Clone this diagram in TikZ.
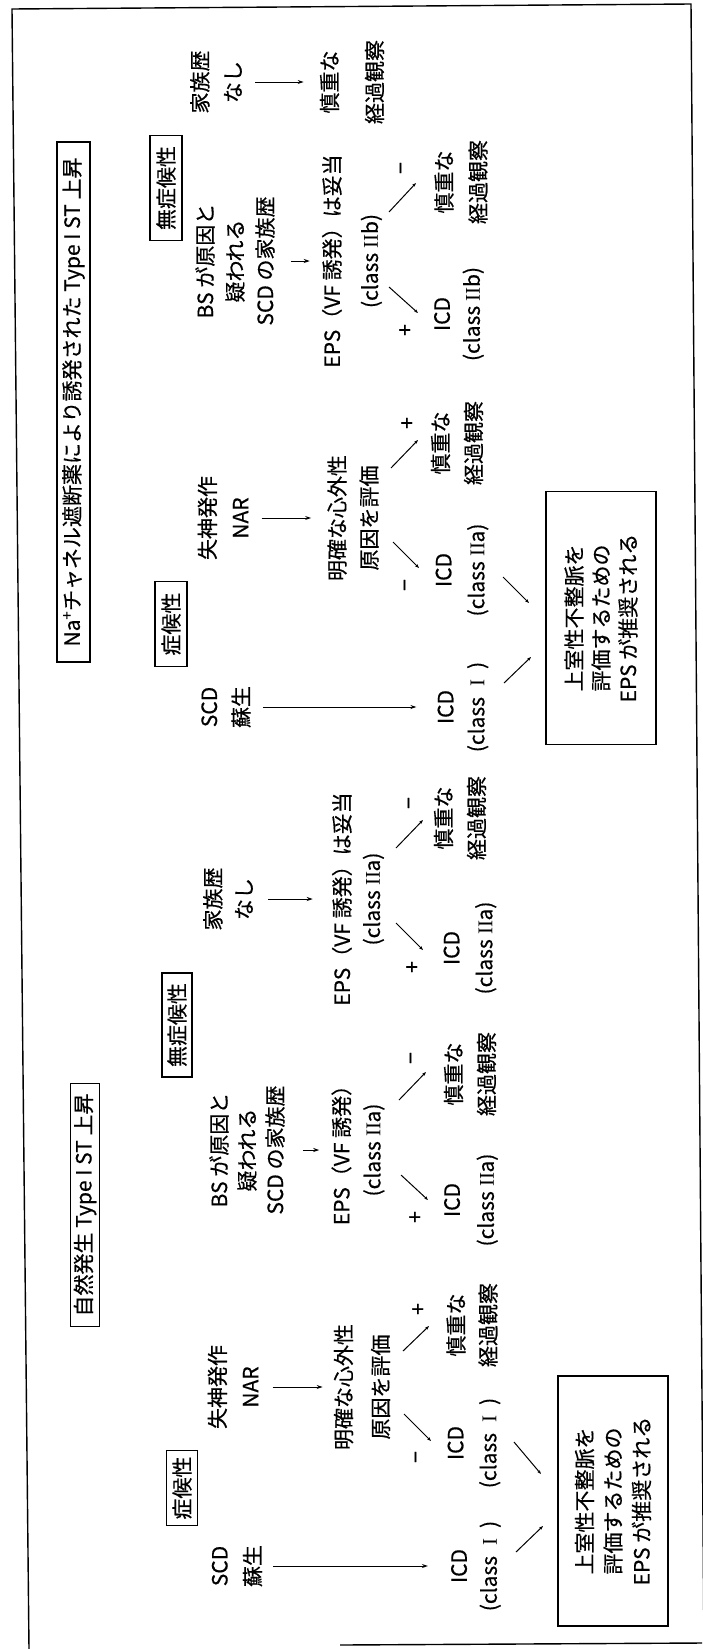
\documentclass[tikz,border=0pt]{standalone}
\usepackage{fontspec}
\setmainfont{Noto Sans CJK JP}[FakeBold=0.5]
\newfontfamily\romfont{Liberation Serif}
\usetikzlibrary{arrows.meta}
\newcommand\RN[1]{{\romfont #1}}
\newcommand\fsz[1]{\fontsize{21}{#1}\selectfont}
\begin{document}
\begin{tikzpicture}[x=1pt,y=-1pt,
  tx/.style={rotate=90, align=center, inner sep=0pt, font=\fsz{#1}},
  tx/.default=32,
  bx/.style={rotate=90, draw, line width=1.2pt, inner sep=0pt, align=center, font=\fsz{30}},
  sg/.style={rotate=90, inner sep=0pt, font=\fsz{24}},
  frame/.style={line width=1.4pt},
  harr/.style={-{Stealth[length=6pt,width=4pt]}, line width=1pt},
  darr/.style={-{Stealth[length=4pt,width=3pt]}, line width=1pt}]
\useasboundingbox (0,0) rectangle (702,1649);
% outer frame
\draw[frame] (29,1649) -- (12,9) -- (691,4) -- (704,1649);
\draw[frame] (340,1645) -- (702,1643);

% titles
\node[bx, minimum width=520pt, minimum height=33pt] (ttl1) at (73.5,402) {Na\textsuperscript{+}チャネル遮断薬により誘発された Type I ST 上昇};
\node[bx, minimum width=243pt, minimum height=29pt] (ttl2) at (85,1205) {自然発生 Type I ST 上昇};

% section labels
\node[bx, minimum width=105pt, minimum height=32pt] (asym1) at (166,188) {無症候性};
\node[bx, minimum width=85pt, minimum height=32pt] (sym1) at (171,624) {症候性};
\node[bx, minimum width=104pt, minimum height=30pt] (asym2) at (177,1025) {無症候性};
\node[bx, minimum width=75pt, minimum height=31pt] (sym2) at (182,1488) {症候性};

% ---------- upper half ----------
\node[tx=33] (tfam) at (216,82) {家族歴\\なし};
\node[tx=45] (tobs0) at (352,82) {慎重な\\経過観察};
\node[tx=30] (tbs) at (235,261) {BS が原因と\\疑われる\\SCD の家族歴};
\node[tx=38] (teps) at (352,261) {EPS（VF 誘発）は妥当\\(class \RN{II}b)};
\node[tx=30] (ticdb) at (459,314) {ICD\\(class \RN{II}b)};
\node[tx=34] (tobs1) at (461,182) {慎重な\\経過観察};
\node[tx=33] (tsyn) at (223,518) {失神発作\\NAR};
\node[tx=32] (teval) at (353,518) {明確な心外性\\原因を評価};
\node[tx=33] (tobs2) at (457,443) {慎重な\\経過観察};
\node[tx=33] (ticda) at (462,570) {ICD\\(class \RN{II}a)};
\node[tx=32] (tscd) at (226,707) {SCD\\蘇生};
\node[tx=31] (ticd1) at (463,707) {ICD\\(class\enspace\RN{I}\enspace)};
\node[bx, minimum width=253pt, minimum height=110pt, font=\fsz{27}] (tbox) at (601,618) {上室性不整脈を\\評価するための\\EPS が推奨される};

\node[sg] (s1) at (406,330) {+};
\node[sg] (s2) at (404,168) {−};
\node[sg] (s3) at (408,423) {+};
\node[sg] (s4) at (408,585) {−};

\draw[harr, shorten <=13pt, shorten >=16pt] (tfam) -- (tobs0);
\draw[harr, shorten <=16pt, shorten >=12pt] (tbs) -- (teps);
\draw[harr, shorten <=13pt, shorten >=16pt] (tsyn) -- (teval);
\draw[harr, shorten <=12pt, shorten >=21pt] (tscd) -- (ticd1);

\coordinate (d1a) at (389,287); \coordinate (d1b) at (418,313);
\coordinate (d2a) at (389,212); \coordinate (d2b) at (416,183);
\coordinate (d3a) at (391,468); \coordinate (d3b) at (418,440);
\coordinate (d4a) at (393,542); \coordinate (d4b) at (419,568);
\coordinate (d5a) at (504,683); \coordinate (d5b) at (531,657);
\coordinate (d6a) at (503,577); \coordinate (d6b) at (529,603);
\draw[darr] (d1a) -- (d1b);
\draw[darr] (d2a) -- (d2b);
\draw[darr] (d3a) -- (d3b);
\draw[darr] (d4a) -- (d4b);
\draw[darr] (d5a) -- (d5b);
\draw[darr] (d6a) -- (d6b);

% ---------- lower half ----------
\node[tx=31] (bfam) at (228,899) {家族歴\\なし};
\node[tx=30] (beps2) at (358,899) {EPS（VF 誘発）は妥当\\(class \RN{II}a)};
\node[tx=33] (bicd2) at (470,948) {ICD\\(class \RN{II}a)};
\node[tx=33] (bobs2) at (460,818) {慎重な\\経過観察};
\node[tx=28] (bbs) at (247,1150) {BS が原因と\\疑われる\\SCD の家族歴};
\node[tx=31] (beps1) at (358,1150) {EPS（VF 誘発）\\(class \RN{II}a)};
\node[tx=34] (bicd1) at (471,1200) {ICD\\(class \RN{II}a)};
\node[tx=33] (bobs1) at (470,1074) {慎重な\\経過観察};
\node[tx=33] (bsyn) at (233,1387) {失神発作\\NAR};
\node[tx=37] (beval) at (362,1387) {明確な心外性\\原因を評価};
\node[tx=32] (bobs0) at (472,1325) {慎重な\\経過観察};
\node[tx=33] (bicdI) at (474,1443) {ICD\\(class\enspace\RN{I}\enspace)};
\node[tx=33] (bscd) at (237,1566) {SCD\\蘇生};
\node[tx=30] (bicdS) at (476,1566) {ICD\\(class\enspace\RN{I}\enspace)};
\node[bx, minimum width=250pt, minimum height=110pt, font=\fsz{28.5}] (bbox) at (613,1501) {上室性不整脈を\\評価するための\\EPS が推奨される};

\node[sg] (s5) at (413,967) {+};
\node[sg] (s6) at (412,803) {−};
\node[sg] (s7) at (416,1217) {+};
\node[sg] (s8) at (414,1058) {−};
\node[sg] (s9) at (419,1309) {+};
\node[sg] (s10) at (419,1457) {−};

\draw[harr, shorten <=15pt, shorten >=19pt] (bfam) -- (beps2);
\draw[harr, shorten <=18pt, shorten >=12pt] (bbs) -- (beps1);
\draw[harr, shorten <=14pt, shorten >=11pt] (bsyn) -- (beval);
\draw[harr, shorten <=11pt, shorten >=23pt] (bscd) -- (bicdS);

\coordinate (d7a) at (396,923); \coordinate (d7b) at (423,950);
\coordinate (d8a) at (396,848); \coordinate (d8b) at (423,820);
\coordinate (d9a) at (401,1175); \coordinate (d9b) at (428,1200);
\coordinate (d10a) at (399,1100); \coordinate (d10b) at (426,1072);
\coordinate (d11a) at (403,1351); \coordinate (d11b) at (429,1326);
\coordinate (d12a) at (404,1414); \coordinate (d12b) at (431,1441);
\coordinate (d13a) at (514,1442); \coordinate (d13b) at (541,1474);
\coordinate (d14a) at (516,1552); \coordinate (d14b) at (543,1526);
\draw[darr] (d7a) -- (d7b);
\draw[darr] (d8a) -- (d8b);
\draw[darr] (d9a) -- (d9b);
\draw[darr] (d10a) -- (d10b);
\draw[darr] (d11a) -- (d11b);
\draw[darr] (d12a) -- (d12b);
\draw[darr] (d13a) -- (d13b);
\draw[darr] (d14a) -- (d14b);
\end{tikzpicture}
\end{document}
